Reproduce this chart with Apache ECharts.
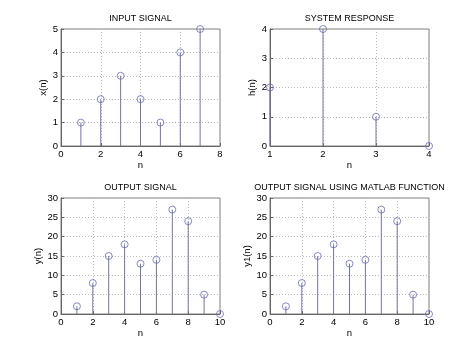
<!DOCTYPE html>
<html><head><meta charset="utf-8">
<script src="https://cdn.jsdelivr.net/npm/echarts@6/dist/echarts.min.js"></script>
<style>html,body{margin:0;padding:0;background:#fff}#c{width:474px;height:355px}</style>
</head><body><div id="c"></div>
<script>
// Data
var nX = [1, 2, 3, 4, 5, 6, 7];
var xN = [1, 2, 3, 2, 1, 4, 5];
var nH = [1, 2, 3, 4];
var hN = [2, 4, 1, 0];
var nY = [1, 2, 3, 4, 5, 6, 7, 8, 9, 10];
var yN = [2, 8, 15, 18, 13, 14, 27, 24, 5, 0];
var y1N = [2, 8, 15, 18, 13, 14, 27, 24, 5, 0];
var titles = ['INPUT SIGNAL', 'SYSTEM RESPONSE', 'OUTPUT SIGNAL', 'OUTPUT SIGNAL USING MATLAB FUNCTION'];
var yNames = ['x(n)', 'h(n)', 'y(n)', 'y1(n)'];

var STEM = '#7474a4';
var MARK = '#6c6cb4';
var FONT = 'Liberation Sans, Arial, sans-serif';
var chart = echarts.init(document.getElementById('c'));

var grids = [
  {left: 61, top: 29, width: 159, height: 117},
  {left: 270, top: 29, width: 159, height: 117},
  {left: 61, top: 198, width: 159, height: 116},
  {left: 270, top: 198, width: 159, height: 116}
];
var titleTop = [14, 14, 183, 183];
var yGap = [9, 11, 17, 15];
var xCfg = [
  {min: 0, max: 8, interval: 2},
  {min: 1, max: 4, interval: 1},
  {min: 0, max: 10, interval: 2},
  {min: 0, max: 10, interval: 2}
];
var yCfg = [
  {min: 0, max: 5, interval: 1},
  {min: 0, max: 4, interval: 1},
  {min: 0, max: 30, interval: 5},
  {min: 0, max: 30, interval: 5}
];
var sets = [[nX, xN], [nH, hN], [nY, yN], [nY, y1N]];

function pairs(a, b) { return a.map(function (v, i) { return [v, b[i]]; }); }

var option = {
  animation: false,
  backgroundColor: '#fff',
  textStyle: {fontFamily: FONT},
  title: grids.map(function (g, i) {
    return {
      text: titles[i], left: g.left + g.width / 2, top: titleTop[i], textAlign: 'center', padding: 0,
      textStyle: {fontSize: 9, fontWeight: 'normal', color: '#000', fontFamily: FONT}
    };
  }),
  grid: grids.map(function (g) {
    return {left: g.left, top: g.top, width: g.width, height: g.height, show: true,
      borderColor: '#808080', borderWidth: 1, backgroundColor: 'transparent'};
  }),
  xAxis: grids.map(function (g, i) {
    return {
      type: 'value', gridIndex: i, min: xCfg[i].min, max: xCfg[i].max, interval: xCfg[i].interval,
      name: 'n', nameLocation: 'middle', nameGap: 14,
      nameTextStyle: {fontSize: 9.5, color: '#000', fontFamily: FONT},
      axisLine: {show: true, onZero: false, lineStyle: {color: '#666', width: 1}},
      axisTick: {show: true, inside: true, length: 3, lineStyle: {color: '#666'}},
      axisLabel: {fontSize: 9.5, color: '#000', margin: 3, fontFamily: FONT},
      splitLine: {show: true, lineStyle: {color: '#b8b8b8', type: [1, 2], width: 1}}
    };
  }),
  yAxis: grids.map(function (g, i) {
    return {
      type: 'value', gridIndex: i, min: yCfg[i].min, max: yCfg[i].max, interval: yCfg[i].interval,
      name: yNames[i], nameLocation: 'middle', nameGap: yGap[i], nameRotate: 90,
      nameTextStyle: {fontSize: 9.5, color: '#000', fontFamily: FONT},
      axisLine: {show: true, onZero: false, lineStyle: {color: '#666', width: 1}},
      axisTick: {show: true, inside: true, length: 3, lineStyle: {color: '#666'}},
      axisLabel: {fontSize: 9.5, color: '#000', margin: 3, fontFamily: FONT},
      splitLine: {show: true, lineStyle: {color: '#b8b8b8', type: [1, 2], width: 1}}
    };
  }),
  series: []
};

sets.forEach(function (s, i) {
  var d = pairs(s[0], s[1]);
  option.series.push({
    type: 'custom', xAxisIndex: i, yAxisIndex: i, data: d, silent: true,
    renderItem: function (params, api) {
      var p0 = api.coord([api.value(0), 0]);
      var p1 = api.coord([api.value(0), api.value(1)]);
      return {type: 'line', shape: {x1: p0[0], y1: p0[1], x2: p1[0], y2: p1[1]},
        style: {stroke: STEM, lineWidth: 1}};
    }
  });
  option.series.push({
    type: 'scatter', xAxisIndex: i, yAxisIndex: i, data: d, symbol: 'circle', symbolSize: 7,
    clip: false, z: 3,
    itemStyle: {color: 'none', borderColor: MARK, borderWidth: 1}
  });
});

chart.setOption(option);
</script></body></html>
